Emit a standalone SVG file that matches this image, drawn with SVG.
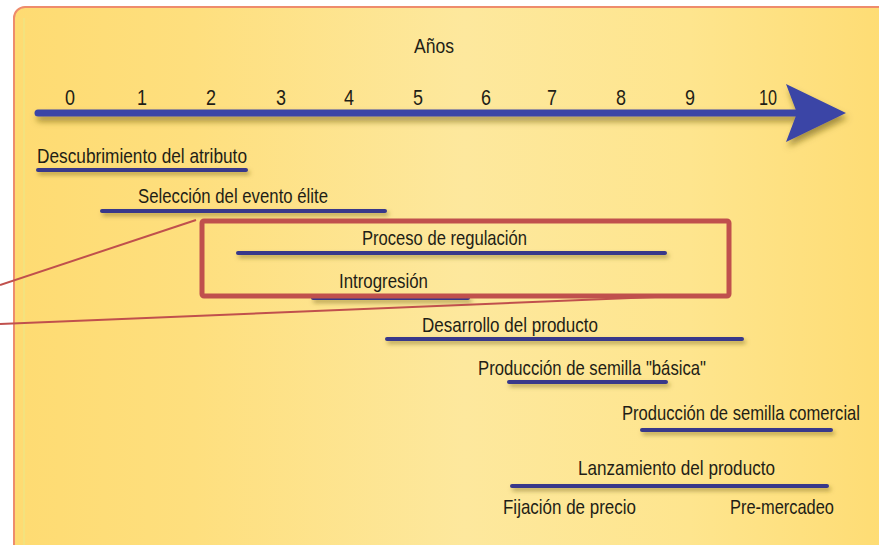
<svg xmlns="http://www.w3.org/2000/svg" width="879" height="545" viewBox="0 0 879 545">
<defs>
<linearGradient id="bg" x1="0" y1="0" x2="1" y2="0">
<stop offset="0" stop-color="#fedb72"/>
<stop offset="0.2" stop-color="#fedf7e"/>
<stop offset="0.5" stop-color="#fde89d"/>
<stop offset="0.75" stop-color="#fee58e"/>
<stop offset="1" stop-color="#fedb70"/>
</linearGradient>
<filter id="sh" filterUnits="userSpaceOnUse" x="0" y="0" width="879" height="545">
<feDropShadow dx="2" dy="3" stdDeviation="2" flood-color="#7a6a20" flood-opacity="0.55"/>
</filter>
<filter id="ash" filterUnits="userSpaceOnUse" x="0" y="0" width="879" height="545">
<feDropShadow dx="2" dy="5" stdDeviation="3" flood-color="#6a5a10" flood-opacity="0.6"/>
</filter>
<style>
text{font-family:"Liberation Sans",Arial,sans-serif;fill:#1f1e16;font-size:21px}
.num{font-size:22px;text-anchor:middle}
.bar{stroke:#37388a;stroke-width:4;stroke-linecap:round;filter:url(#sh)}
.red{stroke:#c0504d;fill:none}
</style>
</defs>
<rect width="879" height="545" fill="#ffffff"/>
<rect id="panel" x="14" y="7" width="900" height="570" rx="11" fill="url(#bg)" stroke="#ee8c6c" stroke-width="2"/>
<line x1="24" y1="18" x2="24" y2="545" stroke="#f3e27e" stroke-width="2"/>

<g id="axis">
<g filter="url(#ash)">
<line x1="38" y1="113" x2="800" y2="113" stroke="#3a45a6" stroke-width="7" stroke-linecap="round"/>
<polygon points="786,84 846,113 786,142 797,113" fill="#3a45a6"/>
</g>
<text x="434" y="53" text-anchor="middle" font-size="22" textLength="40" lengthAdjust="spacingAndGlyphs">Años</text>
<text class="num" x="70" y="105" textLength="10" lengthAdjust="spacingAndGlyphs">0</text>
<text class="num" x="142" y="105" textLength="10" lengthAdjust="spacingAndGlyphs">1</text>
<text class="num" x="211" y="105" textLength="10" lengthAdjust="spacingAndGlyphs">2</text>
<text class="num" x="281" y="105" textLength="10" lengthAdjust="spacingAndGlyphs">3</text>
<text class="num" x="349" y="105" textLength="10" lengthAdjust="spacingAndGlyphs">4</text>
<text class="num" x="418" y="105" textLength="10" lengthAdjust="spacingAndGlyphs">5</text>
<text class="num" x="486" y="105" textLength="10" lengthAdjust="spacingAndGlyphs">6</text>
<text class="num" x="552" y="105" textLength="10" lengthAdjust="spacingAndGlyphs">7</text>
<text class="num" x="621" y="105" textLength="10" lengthAdjust="spacingAndGlyphs">8</text>
<text class="num" x="690" y="105" textLength="10" lengthAdjust="spacingAndGlyphs">9</text>
<text class="num" x="768" y="105" textLength="18" lengthAdjust="spacingAndGlyphs">10</text>
</g>

<g id="descubrimiento">
<text x="37" y="163" textLength="210" lengthAdjust="spacingAndGlyphs">Descubrimiento del atributo</text>
<line class="bar" x1="38" y1="170" x2="246" y2="170"/>
</g>
<g id="seleccion">
<text x="138" y="203" textLength="190" lengthAdjust="spacingAndGlyphs">Selección del evento élite</text>
<line class="bar" x1="102" y1="211" x2="385" y2="211"/>
</g>
<g id="regulacion">
<text x="362" y="245" textLength="165" lengthAdjust="spacingAndGlyphs">Proceso de regulación</text>
<line class="bar" x1="238" y1="253" x2="665" y2="253"/>
</g>
<g id="introgresion">
<text x="339" y="288" textLength="89" lengthAdjust="spacingAndGlyphs">Introgresión</text>
<line class="bar" x1="313" y1="298" x2="468" y2="298"/>
</g>
<g id="desarrollo">
<text x="422" y="332" textLength="176" lengthAdjust="spacingAndGlyphs">Desarrollo del producto</text>
<line class="bar" x1="387" y1="339" x2="742" y2="339"/>
</g>
<g id="basica">
<text x="478" y="375" textLength="228" lengthAdjust="spacingAndGlyphs">Producción de semilla "básica"</text>
<line class="bar" x1="509" y1="382" x2="666" y2="382"/>
</g>
<g id="comercial">
<text x="622" y="420" textLength="238" lengthAdjust="spacingAndGlyphs">Producción de semilla comercial</text>
<line class="bar" x1="642" y1="430" x2="831" y2="430"/>
</g>
<g id="lanzamiento">
<text x="578" y="475" textLength="197" lengthAdjust="spacingAndGlyphs">Lanzamiento del producto</text>
<line class="bar" x1="512" y1="486" x2="827" y2="486"/>
<text x="503" y="514" textLength="133" lengthAdjust="spacingAndGlyphs">Fijación de precio</text>
<text x="730" y="514" textLength="104" lengthAdjust="spacingAndGlyphs">Pre-mercadeo</text>
</g>

<g id="connectors">
<rect class="red" x="202" y="221" width="527" height="75" rx="2" stroke-width="5"/>
<line class="red" x1="0" y1="285" x2="196" y2="220" stroke-width="2"/>
<line class="red" x1="0" y1="324" x2="680" y2="296" stroke-width="2"/>
</g>
</svg>
